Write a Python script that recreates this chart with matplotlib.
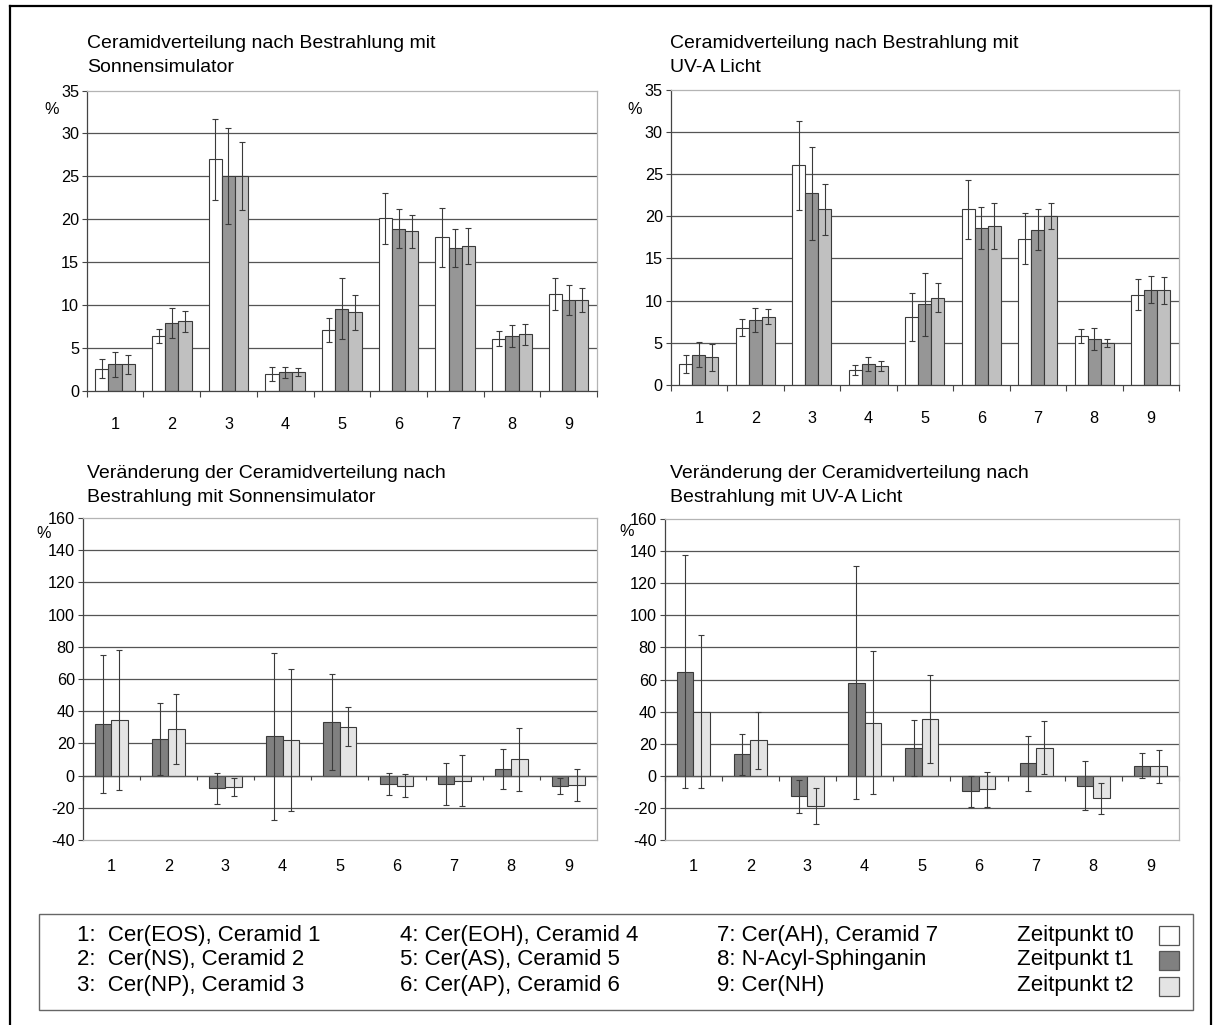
import numpy as np
import matplotlib
matplotlib.use("Agg")
import matplotlib.pyplot as plt
from matplotlib.patches import Rectangle
from matplotlib.lines import Line2D

plt.rcParams['font.family'] = ['Liberation Sans', 'DejaVu Sans']
plt.rcParams['axes.unicode_minus'] = False

# ---------------- data ----------------
categories = ['1', '2', '3', '4', '5', '6', '7', '8', '9']

# Ceramide distribution (%) after solar simulator irradiation
sun_t0 = [2.6, 6.4, 27.0, 2.0, 7.05, 20.1, 17.9, 6.1, 11.3]
sun_t0_sd = [1.1, 0.8, 4.7, 0.8, 1.4, 3.0, 3.4, 0.85, 1.85]
sun_t1 = [3.1, 7.9, 25.0, 2.2, 9.6, 18.9, 16.7, 6.4, 10.6]
sun_t1_sd = [1.5, 1.75, 5.6, 0.65, 3.6, 2.3, 2.2, 1.3, 1.7]
sun_t2 = [3.1, 8.1, 25.0, 2.2, 9.15, 18.6, 16.9, 6.6, 10.6]
sun_t2_sd = [1.15, 1.25, 3.95, 0.45, 2.05, 1.95, 2.1, 1.2, 1.35]

# Ceramide distribution (%) after UV-A irradiation
uva_t0 = [2.45, 6.8, 26.0, 1.8, 8.1, 20.8, 17.35, 5.8, 10.7]
uva_t0_sd = [1.05, 1.05, 5.3, 0.6, 2.85, 3.45, 3.0, 0.8, 1.85]
uva_t1 = [3.6, 7.7, 22.7, 2.5, 9.55, 18.55, 18.4, 5.5, 11.3]
uva_t1_sd = [1.5, 1.45, 5.5, 0.8, 3.7, 2.5, 2.4, 1.3, 1.6]
uva_t2 = [3.3, 8.1, 20.8, 2.2, 10.35, 18.8, 20.0, 5.0, 11.2]
uva_t2_sd = [1.6, 0.85, 3.0, 0.6, 1.75, 2.75, 1.55, 0.5, 1.6]

# Change of ceramide distribution (%) - solar simulator
sun_chg_t1 = [32.2, 22.8, -7.9, 24.5, 33.2, -5.2, -5.2, 4.1, -6.6]
sun_chg_t1_sd = [43.0, 22.5, 9.5, 51.8, 30.0, 7.0, 12.8, 12.6, 4.9]
sun_chg_t2 = [34.4, 28.8, -7.25, 22.2, 30.3, -6.4, -3.1, 10.2, -6.0]
sun_chg_t2_sd = [43.4, 21.8, 5.5, 44.3, 12.2, 7.2, 16.0, 19.5, 10.0]

# Change of ceramide distribution (%) - UV-A
uva_chg_t1 = [64.9, 13.3, -12.85, 58.0, 17.2, -9.7, 7.9, -6.2, 6.4]
uva_chg_t1_sd = [72.5, 13.0, 10.5, 72.6, 17.4, 9.7, 17.1, 15.4, 8.0]
uva_chg_t2 = [39.8, 22.0, -18.65, 33.2, 35.2, -8.5, 17.6, -14.1, 6.0]
uva_chg_t2_sd = [47.7, 17.6, 11.2, 44.8, 27.3, 10.9, 16.4, 9.5, 10.2]

titles = [
    ["Ceramidverteilung nach Bestrahlung mit", "Sonnensimulator"],
    ["Ceramidverteilung nach Bestrahlung mit", "UV-A Licht"],
    ["Veränderung der Ceramidverteilung nach", "Bestrahlung mit Sonnensimulator"],
    ["Veränderung der Ceramidverteilung nach", "Bestrahlung mit UV-A Licht"],
]

legend_items = [
    ["1:  Cer(EOS), Ceramid 1", "2:  Cer(NS), Ceramid 2", "3:  Cer(NP), Ceramid 3"],
    ["4: Cer(EOH), Ceramid 4", "5: Cer(AS), Ceramid 5", "6: Cer(AP), Ceramid 6"],
    ["7: Cer(AH), Ceramid 7", "8: N-Acyl-Sphinganin", "9: Cer(NH)"],
]
series_labels = ["Zeitpunkt t0", "Zeitpunkt t1", "Zeitpunkt t2"]

# ---------------- styles ----------------
W, H = 1215, 1025
fig = plt.figure(figsize=(W / 100, H / 100), dpi=100)

GRID = '#555555'
FRAME = '#b4b4b4'
EDGE = '#3a3a3a'
top_colors = ['#ffffff', '#969696', '#c0c0c0']
bot_colors = ['#808080', '#e4e4e4']
leg_colors = ['#ffffff', '#808080', '#e4e4e4']
TICK_FS = 11.7
TITLE_FS = 14
LEG_FS = 16


def rect(l, t, r, b):
    return [l / W, 1 - b / H, (r - l) / W, (b - t) / H]


def base_style(ax, ymin, ymax, step, bottom_dark):
    ax.set_xlim(0.5, len(categories) + 0.5)
    ax.set_ylim(ymin, ymax)
    ticks = np.arange(ymin, ymax + step / 2, step)
    ax.set_yticks(ticks)
    ax.set_yticklabels([f"{int(t)}" for t in ticks], fontsize=TICK_FS)
    for v in ticks:
        if ymin < v < ymax:
            ax.axhline(v, color=GRID, lw=0.9, zorder=0)
    ax.spines['left'].set_color('#444444')
    ax.spines['top'].set_color(FRAME)
    ax.spines['right'].set_color(FRAME)
    ax.spines['bottom'].set_color('#444444' if bottom_dark else FRAME)
    for s in ax.spines.values():
        s.set_linewidth(0.9)
    ax.tick_params(axis='y', length=3.5, width=0.8, color='#444444', pad=2)


def top_chart(ax, vals, sds):
    x = np.arange(1, len(categories) + 1)
    w = 0.233
    base_style(ax, 0, 35, 5, True)
    for i, (v, s, c) in enumerate(zip(vals, sds, top_colors)):
        xp = x + (i - 1) * w
        ax.bar(xp, v, w, color=c, edgecolor=EDGE, lw=0.8, zorder=2)
        ax.errorbar(xp, v, yerr=s, fmt='none', ecolor=EDGE, elinewidth=0.8,
                    capsize=2.3, capthick=0.8, zorder=3)
    ax.set_xticks(np.arange(0.5, len(categories) + 1, 1))
    ax.set_xticklabels([])
    ax.tick_params(axis='x', which='major', length=4, width=0.8, color='#444444')
    ax.set_xticks(x, minor=True)
    ax.set_xticklabels(categories, minor=True, fontsize=TICK_FS)
    ax.tick_params(axis='x', which='minor', length=0, pad=19)


def bottom_chart(ax, vals, sds):
    x = np.arange(1, len(categories) + 1)
    w = 0.288
    base_style(ax, -40, 160, 20, False)
    for i, (v, s, c) in enumerate(zip(vals, sds, bot_colors)):
        xp = x + (i - 0.5) * w
        ax.bar(xp, v, w, color=c, edgecolor=EDGE, lw=0.8, zorder=2)
        ax.errorbar(xp, v, yerr=s, fmt='none', ecolor=EDGE, elinewidth=0.8,
                    capsize=2.3, capthick=0.8, zorder=3)
    ax.axhline(0, color=GRID, lw=0.9, zorder=2.5)
    ax.vlines(np.arange(0.5, len(categories) + 1, 1), -3, 0, color='#444444',
              lw=0.8, zorder=2.5, clip_on=False)
    ax.set_xticks(x)
    ax.set_xticklabels(categories, fontsize=TICK_FS)
    ax.tick_params(axis='x', length=0, pad=14)


ax_tl = fig.add_axes(rect(86.7, 90.5, 597, 391))
ax_tr = fig.add_axes(rect(670.5, 89.5, 1179, 385))
ax_bl = fig.add_axes(rect(82.5, 518, 597, 840))
ax_br = fig.add_axes(rect(664.5, 519, 1179, 840))

top_chart(ax_tl, [sun_t0, sun_t1, sun_t2], [sun_t0_sd, sun_t1_sd, sun_t2_sd])
top_chart(ax_tr, [uva_t0, uva_t1, uva_t2], [uva_t0_sd, uva_t1_sd, uva_t2_sd])
bottom_chart(ax_bl, [sun_chg_t1, sun_chg_t2], [sun_chg_t1_sd, sun_chg_t2_sd])
bottom_chart(ax_br, [uva_chg_t1, uva_chg_t2], [uva_chg_t1_sd, uva_chg_t2_sd])

# titles
title_pos = [(87, 43), (670, 43), (87, 473), (670, 473)]
for (tx, ty), lines in zip(title_pos, titles):
    for k, line in enumerate(lines):
        fig.text(tx / W, 1 - (ty + 24.5 * k) / H, line, fontsize=TITLE_FS,
                 ha='left', va='center')

# percent labels
for px, py in [(52, 109), (635, 109), (44, 533), (627, 532)]:
    fig.text(px / W, 1 - py / H, '%', fontsize=TICK_FS, ha='center', va='center')

# outer frame
fig.add_artist(Line2D([10 / W, 10 / W], [0, 1 - 6 / H], color='black', lw=1.6))
fig.add_artist(Line2D([10 / W, 1211 / W], [1 - 6 / H, 1 - 6 / H], color='black', lw=1.6))
fig.add_artist(Line2D([1211 / W, 1211 / W], [0, 1 - 6 / H], color='black', lw=1.6))

# legend box
fig.add_artist(Rectangle((39 / W, 1 - 1010 / H), (1193 - 39) / W, (1010 - 914) / H,
                         transform=fig.transFigure, fill=False, edgecolor='#666666', lw=1.0))
col_x = [77, 400, 717]
row_y = [935, 960, 986]
for cx, col in zip(col_x, legend_items):
    for ry, txt in zip(row_y, col):
        fig.text(cx / W, 1 - ry / H, txt, fontsize=LEG_FS, ha='left', va='center')
for ry, lab, c in zip(row_y, series_labels, leg_colors):
    fig.text(1017 / W, 1 - ry / H, lab, fontsize=LEG_FS, ha='left', va='center')
    fig.add_artist(Rectangle((1159 / W, 1 - (ry + 9.5) / H), 20 / W, 19 / H,
                             transform=fig.transFigure, facecolor=c,
                             edgecolor='#555555', lw=0.9))

fig.savefig('out.png', dpi=100)
